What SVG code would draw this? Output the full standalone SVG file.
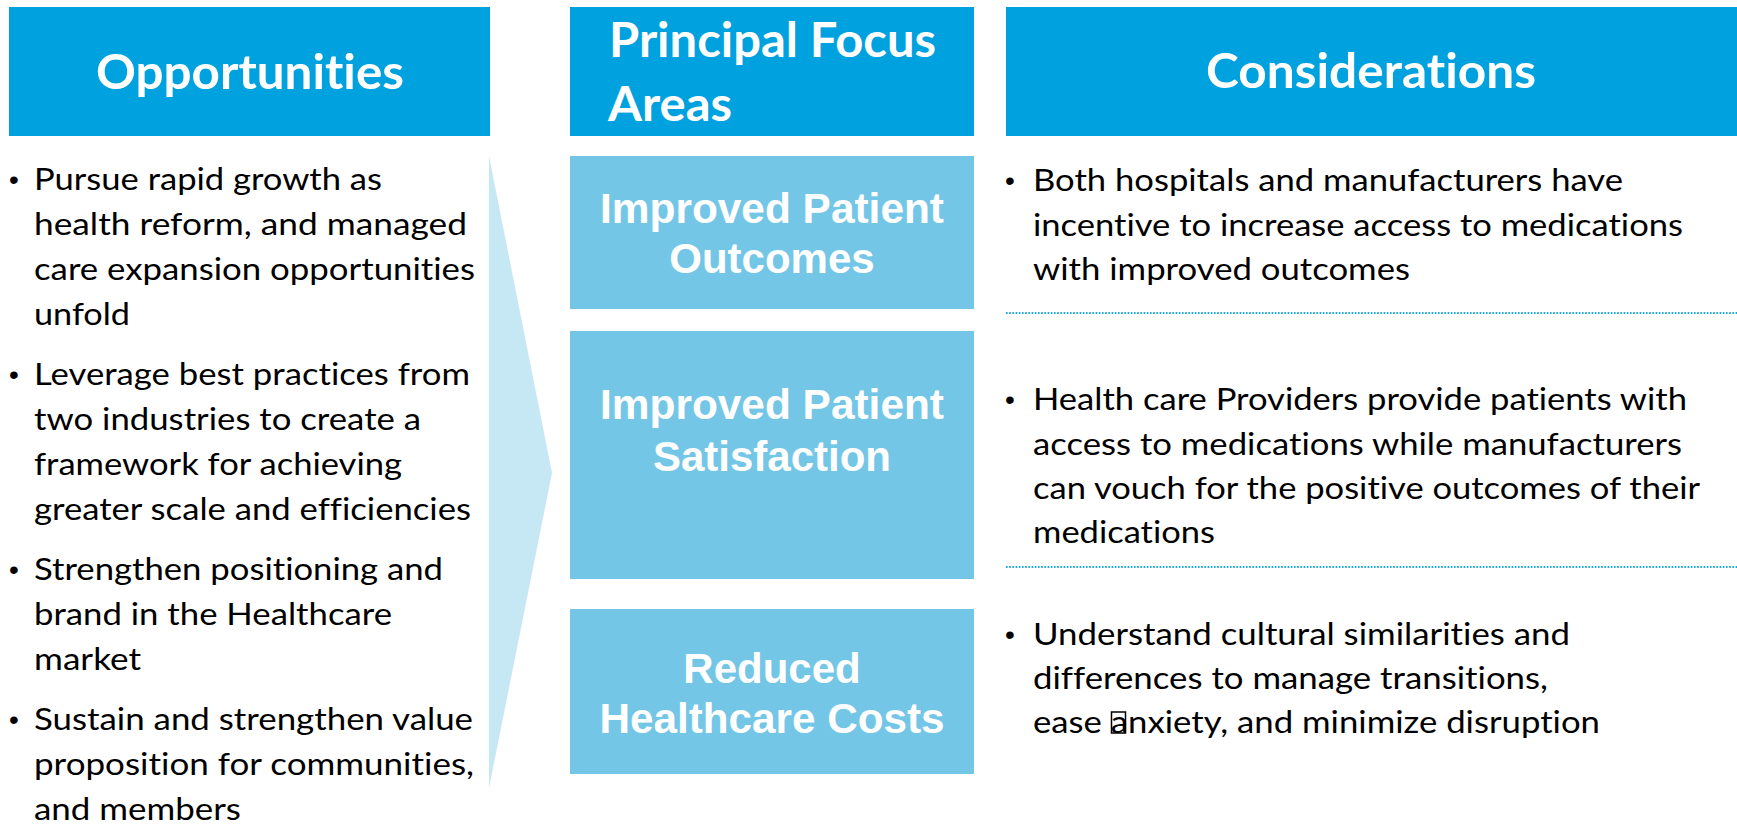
<svg xmlns="http://www.w3.org/2000/svg" width="1737" height="824" viewBox="0 0 1737 824">
<style>
text{font-variant-ligatures:none}
.hdr{fill:#00A1DF}
.box{fill:#74C6E7}
.ht{font-family:Lato,"Open Sans","Liberation Sans",sans-serif;font-weight:bold;font-size:47px;fill:#fff}
.bt{font-family:"Liberation Sans",Arial,sans-serif;font-weight:bold;font-size:42px;fill:#fff;text-anchor:middle}
.tx{font-family:Lato,"Liberation Sans",sans-serif;font-size:30px;fill:#000}
.bl{font-family:"Liberation Sans",Arial,sans-serif;font-size:28px;fill:#000}
.sep{stroke:#1AA7E0;stroke-width:2;stroke-dasharray:1.6 1.6;fill:none}
</style>
<rect width="1737" height="824" fill="#fff"/>
<g id="connectors">
<polygon points="489,156 552,473 489,788" fill="#C6E8F5"/>
</g>
<g id="opportunities-header">
<rect class="hdr" x="9" y="7" width="481" height="129"/>
<text class="ht" x="96" y="89" textLength="308" lengthAdjust="spacingAndGlyphs">Opportunities</text>
</g>
<g id="opportunities-list">
<text class="bl" x="9" y="189">•</text>
<text class="tx" x="34" y="190" textLength="348" lengthAdjust="spacingAndGlyphs">Pursue rapid growth as</text>
<text class="tx" x="34" y="235" textLength="433" lengthAdjust="spacingAndGlyphs">health reform, and managed</text>
<text class="tx" x="34" y="280" textLength="441" lengthAdjust="spacingAndGlyphs">care expansion opportunities</text>
<text class="tx" x="34" y="325" textLength="96" lengthAdjust="spacingAndGlyphs">unfold</text>
<text class="bl" x="9" y="384">•</text>
<text class="tx" x="34" y="385" textLength="436" lengthAdjust="spacingAndGlyphs">Leverage best practices from</text>
<text class="tx" x="34" y="430" textLength="387" lengthAdjust="spacingAndGlyphs">two industries to create a</text>
<text class="tx" x="34" y="475" textLength="368" lengthAdjust="spacingAndGlyphs">framework for achieving</text>
<text class="tx" x="34" y="520" textLength="437" lengthAdjust="spacingAndGlyphs">greater scale and efficiencies</text>
<text class="bl" x="9" y="579">•</text>
<text class="tx" x="34" y="580" textLength="409" lengthAdjust="spacingAndGlyphs">Strengthen positioning and</text>
<text class="tx" x="34" y="625" textLength="358" lengthAdjust="spacingAndGlyphs">brand in the Healthcare</text>
<text class="tx" x="34" y="670" textLength="107" lengthAdjust="spacingAndGlyphs">market</text>
<text class="bl" x="9" y="729">•</text>
<text class="tx" x="34" y="730" textLength="439" lengthAdjust="spacingAndGlyphs">Sustain and strengthen value</text>
<text class="tx" x="34" y="775" textLength="440" lengthAdjust="spacingAndGlyphs">proposition for communities,</text>
<text class="tx" x="34" y="820" textLength="207" lengthAdjust="spacingAndGlyphs">and members</text>
</g>
<g id="focus-header">
<rect class="hdr" x="570" y="7" width="404" height="129"/>
<text class="ht" x="609" y="57" textLength="327" lengthAdjust="spacingAndGlyphs">Principal Focus</text>
<text class="ht" x="608" y="121" textLength="124" lengthAdjust="spacingAndGlyphs">Areas</text>
</g>
<g id="focus-outcomes">
<rect class="box" x="570" y="156" width="404" height="153"/>
<text class="bt" x="772" y="223" textLength="344" lengthAdjust="spacingAndGlyphs">Improved Patient</text>
<text class="bt" x="772" y="273">Outcomes</text>
</g>
<g id="focus-satisfaction">
<rect class="box" x="570" y="331" width="404" height="248"/>
<text class="bt" x="772" y="419" textLength="344" lengthAdjust="spacingAndGlyphs">Improved Patient</text>
<text class="bt" x="772" y="471">Satisfaction</text>
</g>
<g id="focus-costs">
<rect class="box" x="570" y="609" width="404" height="165"/>
<text class="bt" x="772" y="683">Reduced</text>
<text class="bt" x="772" y="733" textLength="345" lengthAdjust="spacingAndGlyphs">Healthcare Costs</text>
</g>
<g id="considerations-header">
<rect class="hdr" x="1006" y="7" width="731" height="129"/>
<text class="ht" x="1206" y="88" textLength="330" lengthAdjust="spacingAndGlyphs">Considerations</text>
</g>
<g id="considerations-list">
<text class="bl" x="1005" y="190">•</text>
<text class="tx" x="1033" y="191" textLength="590" lengthAdjust="spacingAndGlyphs">Both hospitals and manufacturers have</text>
<text class="tx" x="1033" y="236" textLength="650" lengthAdjust="spacingAndGlyphs">incentive to increase access to medications</text>
<text class="tx" x="1033" y="280" textLength="377" lengthAdjust="spacingAndGlyphs">with improved outcomes</text>
<line class="sep" x1="1006" y1="313" x2="1737" y2="313"/>
<text class="bl" x="1005" y="409">•</text>
<text class="tx" x="1033" y="410" textLength="654" lengthAdjust="spacingAndGlyphs">Health care Providers provide patients with</text>
<text class="tx" x="1033" y="455" textLength="649" lengthAdjust="spacingAndGlyphs">access to medications while manufacturers</text>
<text class="tx" x="1033" y="499" textLength="667" lengthAdjust="spacingAndGlyphs">can vouch for the positive outcomes of their</text>
<text class="tx" x="1033" y="543" textLength="182" lengthAdjust="spacingAndGlyphs">medications</text>
<line class="sep" x1="1006" y1="567" x2="1737" y2="567"/>
<text class="bl" x="1005" y="644">•</text>
<text class="tx" x="1033" y="645" textLength="537" lengthAdjust="spacingAndGlyphs">Understand cultural similarities and</text>
<text class="tx" x="1033" y="689" textLength="515" lengthAdjust="spacingAndGlyphs">differences to manage transitions,</text>
<text class="tx" x="1033" y="733" textLength="567" lengthAdjust="spacingAndGlyphs">ease anxiety, and minimize disruption</text>
<rect x="1111.5" y="712" width="14" height="21" fill="none" stroke="#000" stroke-width="1.5"/>
</g>
</svg>
